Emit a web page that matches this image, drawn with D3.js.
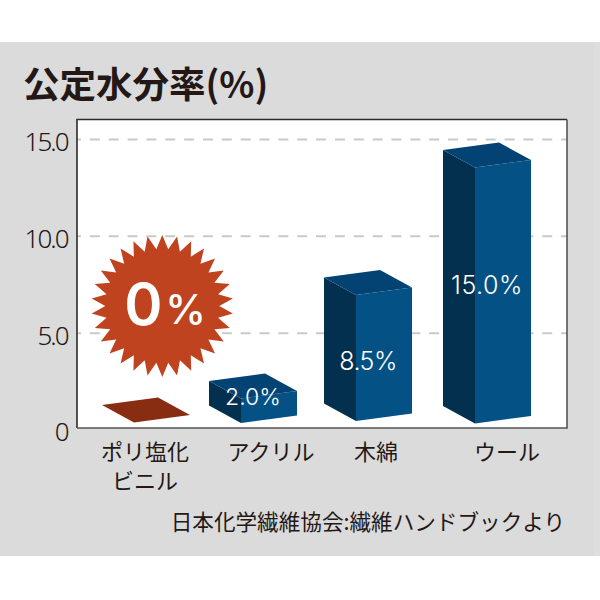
<!DOCTYPE html>
<html lang="ja">
<head>
<meta charset="utf-8">
<script src="https://cdn.jsdelivr.net/npm/d3@7"></script>
<style>
html,body{margin:0;padding:0;background:#fff}
svg{display:block}
text{font-family:"Noto Sans CJK JP","Noto Sans",sans-serif}
</style>
</head>
<body>
<svg id="c" width="600" height="600"></svg>
<script>
const titleText = "公定水分率(%)";
const sourceText = "日本化学繊維協会:繊維ハンドブックより";
const categories = ["ポリ塩化ビニル", "アクリル", "木綿", "ウール"];
const categoryLines = [["ポリ塩化", "ビニル"], ["アクリル"], ["木綿"], ["ウール"]];
const values = [0, 2.0, 8.5, 15.0];
const valueLabels = ["", "2.0%", "8.5%", "15.0%"];
const yTicks = [0, 5, 10, 15];
const yTickLabels = ["0", "5.0", "10.0", "15.0"];
const badgeText = "0";
const badgeUnit = "%";

const svg = d3.select("#c");
const frame = {l: 77, r: 567, t: 119.5, b: 428};

// backdrop
svg.append("rect").attr("x", 0).attr("y", 42).attr("width", 600).attr("height", 514).attr("fill", "#dedede");
svg.append("rect").attr("x", 0).attr("y", 42).attr("width", 594).attr("height", 514).attr("fill", "#dbdbdb");
svg.append("rect").attr("x", frame.l).attr("y", frame.t).attr("width", frame.r - frame.l).attr("height", frame.b - frame.t).attr("fill", "#fff");

// scales
const y = d3.scaleLinear().domain([0, 15]).range([430, 139.5]);
// the drawn 3D columns are not strictly proportional: column height by value
const columnHeight = d3.scaleLinear().domain([0, 2, 8.5, 15]).range([0, 24.5, 126, 256]);
const columnLeft = d3.scaleOrdinal().domain(categories).range([102, 209, 324, 443]);
const columnBase = d3.scaleOrdinal().domain(categories).range([405, 405.5, 403.5, 406]);
const labelX = d3.scaleOrdinal().domain(categories).range([145, 271, 376, 507]);

// grid
svg.append("g").selectAll("line").data(yTicks.filter(d => d > 0)).join("line")
  .attr("x1", frame.l).attr("x2", frame.r)
  .attr("y1", d => y(d)).attr("y2", d => y(d))
  .attr("stroke", "#c9c9c9").attr("stroke-width", 2)
  .attr("stroke-dasharray", "10 8.85").attr("stroke-dashoffset", 6);

// y axis labels
const yAxis = d3.axisLeft(y).tickValues(yTicks).tickSize(0).tickPadding(9.5)
  .tickFormat((d, i) => yTickLabels[i]);
const yg = svg.append("g").attr("transform", `translate(${frame.l},0)`).call(yAxis);
yg.select(".domain").remove();
yg.selectAll("text").attr("font-size", 26).attr("font-weight", 300).attr("fill", "#231815")
  .attr("letter-spacing", "-2").attr("dy", "0.42em")
  .style("font-family", '"Noto Sans","Noto Sans CJK JP",sans-serif');

// columns
const WD = 32, WR = 56, DD = 17.5, DR = -7.5;
const pts = a => a.map(p => p.join(",")).join(" ");
const g = svg.append("g").selectAll("g").data(categories.map((c, i) => ({c, v: values[i], t: valueLabels[i]}))).join("g");
const flat = d => d.v === 0;
const xl = d => columnLeft(d.c), bb = d => columnBase(d.c), h = d => columnHeight(d.v);

// left (dark) face
g.filter(d => !flat(d)).append("polygon").attr("fill", "#03304f").attr("points", d => pts([
  [xl(d), bb(d)], [xl(d) + WD, bb(d) + DD], [xl(d) + WD, bb(d) + DD - h(d)], [xl(d), bb(d) - h(d)]
]));
// right (front) face
g.filter(d => !flat(d)).append("polygon").attr("fill", "#045285").attr("points", d => pts([
  [xl(d) + WD, bb(d) + DD], [xl(d) + WD + WR, bb(d) + DD + DR], [xl(d) + WD + WR, bb(d) + DD + DR - h(d)], [xl(d) + WD, bb(d) + DD - h(d)]
]));
// top face
g.append("polygon").attr("fill", d => flat(d) ? "#882c12" : "#034374").attr("points", d => pts([
  [xl(d), bb(d) - h(d)], [xl(d) + WR, bb(d) + DR - h(d)], [xl(d) + WD + WR, bb(d) + DD + DR - h(d)], [xl(d) + WD, bb(d) + DD - h(d)]
]));

// value labels
const valueLabelY = d3.scaleOrdinal().domain(categories).range([0, 405, 370, 294]);
const valueLabelSize = d3.scaleOrdinal().domain(categories).range([0, 23, 25, 25]);
const valueLabelTrack = d3.scaleOrdinal().domain(categories).range([0, 0, -0.5, 0.5]);
g.filter(d => !flat(d)).append("text")
  .attr("x", d => xl(d) + 44)
  .attr("y", d => valueLabelY(d.c))
  .attr("text-anchor", "middle").attr("fill", "#fff")
  .attr("font-size", d => valueLabelSize(d.c)).attr("font-weight", 300)
  .attr("letter-spacing", d => valueLabelTrack(d.c))
  .style("font-family", "Inter, sans-serif")
  .text(d => d.t);

// frame
svg.append("path").attr("fill", "none").attr("stroke", "#2b2b2b").attr("stroke-width", 1.6)
  .attr("d", `M${frame.l},${frame.b}V${frame.t}H${frame.r}`);
svg.append("path").attr("fill", "none").attr("stroke", "#555").attr("stroke-width", 1.6)
  .attr("d", `M${frame.r},${frame.t}V${frame.b}H${frame.l}`);

// starburst badge
const spikes = 30, rOut = 71, rIn = 57;
const starPts = d3.range(spikes * 2).map(i => [i * Math.PI / spikes, i % 2 ? rIn : rOut]);
const badge = svg.append("g").attr("transform", "translate(162.3,306)");
badge.append("path").attr("fill", "#c0431f").attr("d", d3.lineRadial().curve(d3.curveLinearClosed)(starPts));
badge.append("text").attr("x", -38).attr("y", 19).attr("fill", "#fff").attr("font-size", 58).attr("font-weight", 600)
  .style("font-family", 'Inter,sans-serif').text(badgeText);
badge.append("text").attr("x", 3).attr("y", 18).attr("fill", "#fff").attr("font-size", 41).attr("font-weight", 500)
  .style("font-family", 'Inter,sans-serif').text(badgeUnit);

// category labels
const lab = svg.append("g").selectAll("text").data(categories).join("text")
  .attr("text-anchor", "middle").attr("font-size", 22).attr("font-weight", 400).attr("fill", "#231815")
  .attr("y", 459.5);
lab.selectAll("tspan").data((d, i) => categoryLines[i].map(t => ({t, d}))).join("tspan")
  .attr("x", d => labelX(d.d)).attr("dy", (d, i) => i ? 29 : 0).text(d => d.t);

// title and source
svg.append("text").attr("x", 23).attr("y", 98).attr("font-size", 36.5).attr("font-weight", 700).attr("fill", "#231815").text(titleText);
svg.append("text").attr("x", 565).attr("y", 530).attr("text-anchor", "end").attr("font-size", 21.6).attr("fill", "#231815").text(sourceText);
</script>
</body>
</html>
